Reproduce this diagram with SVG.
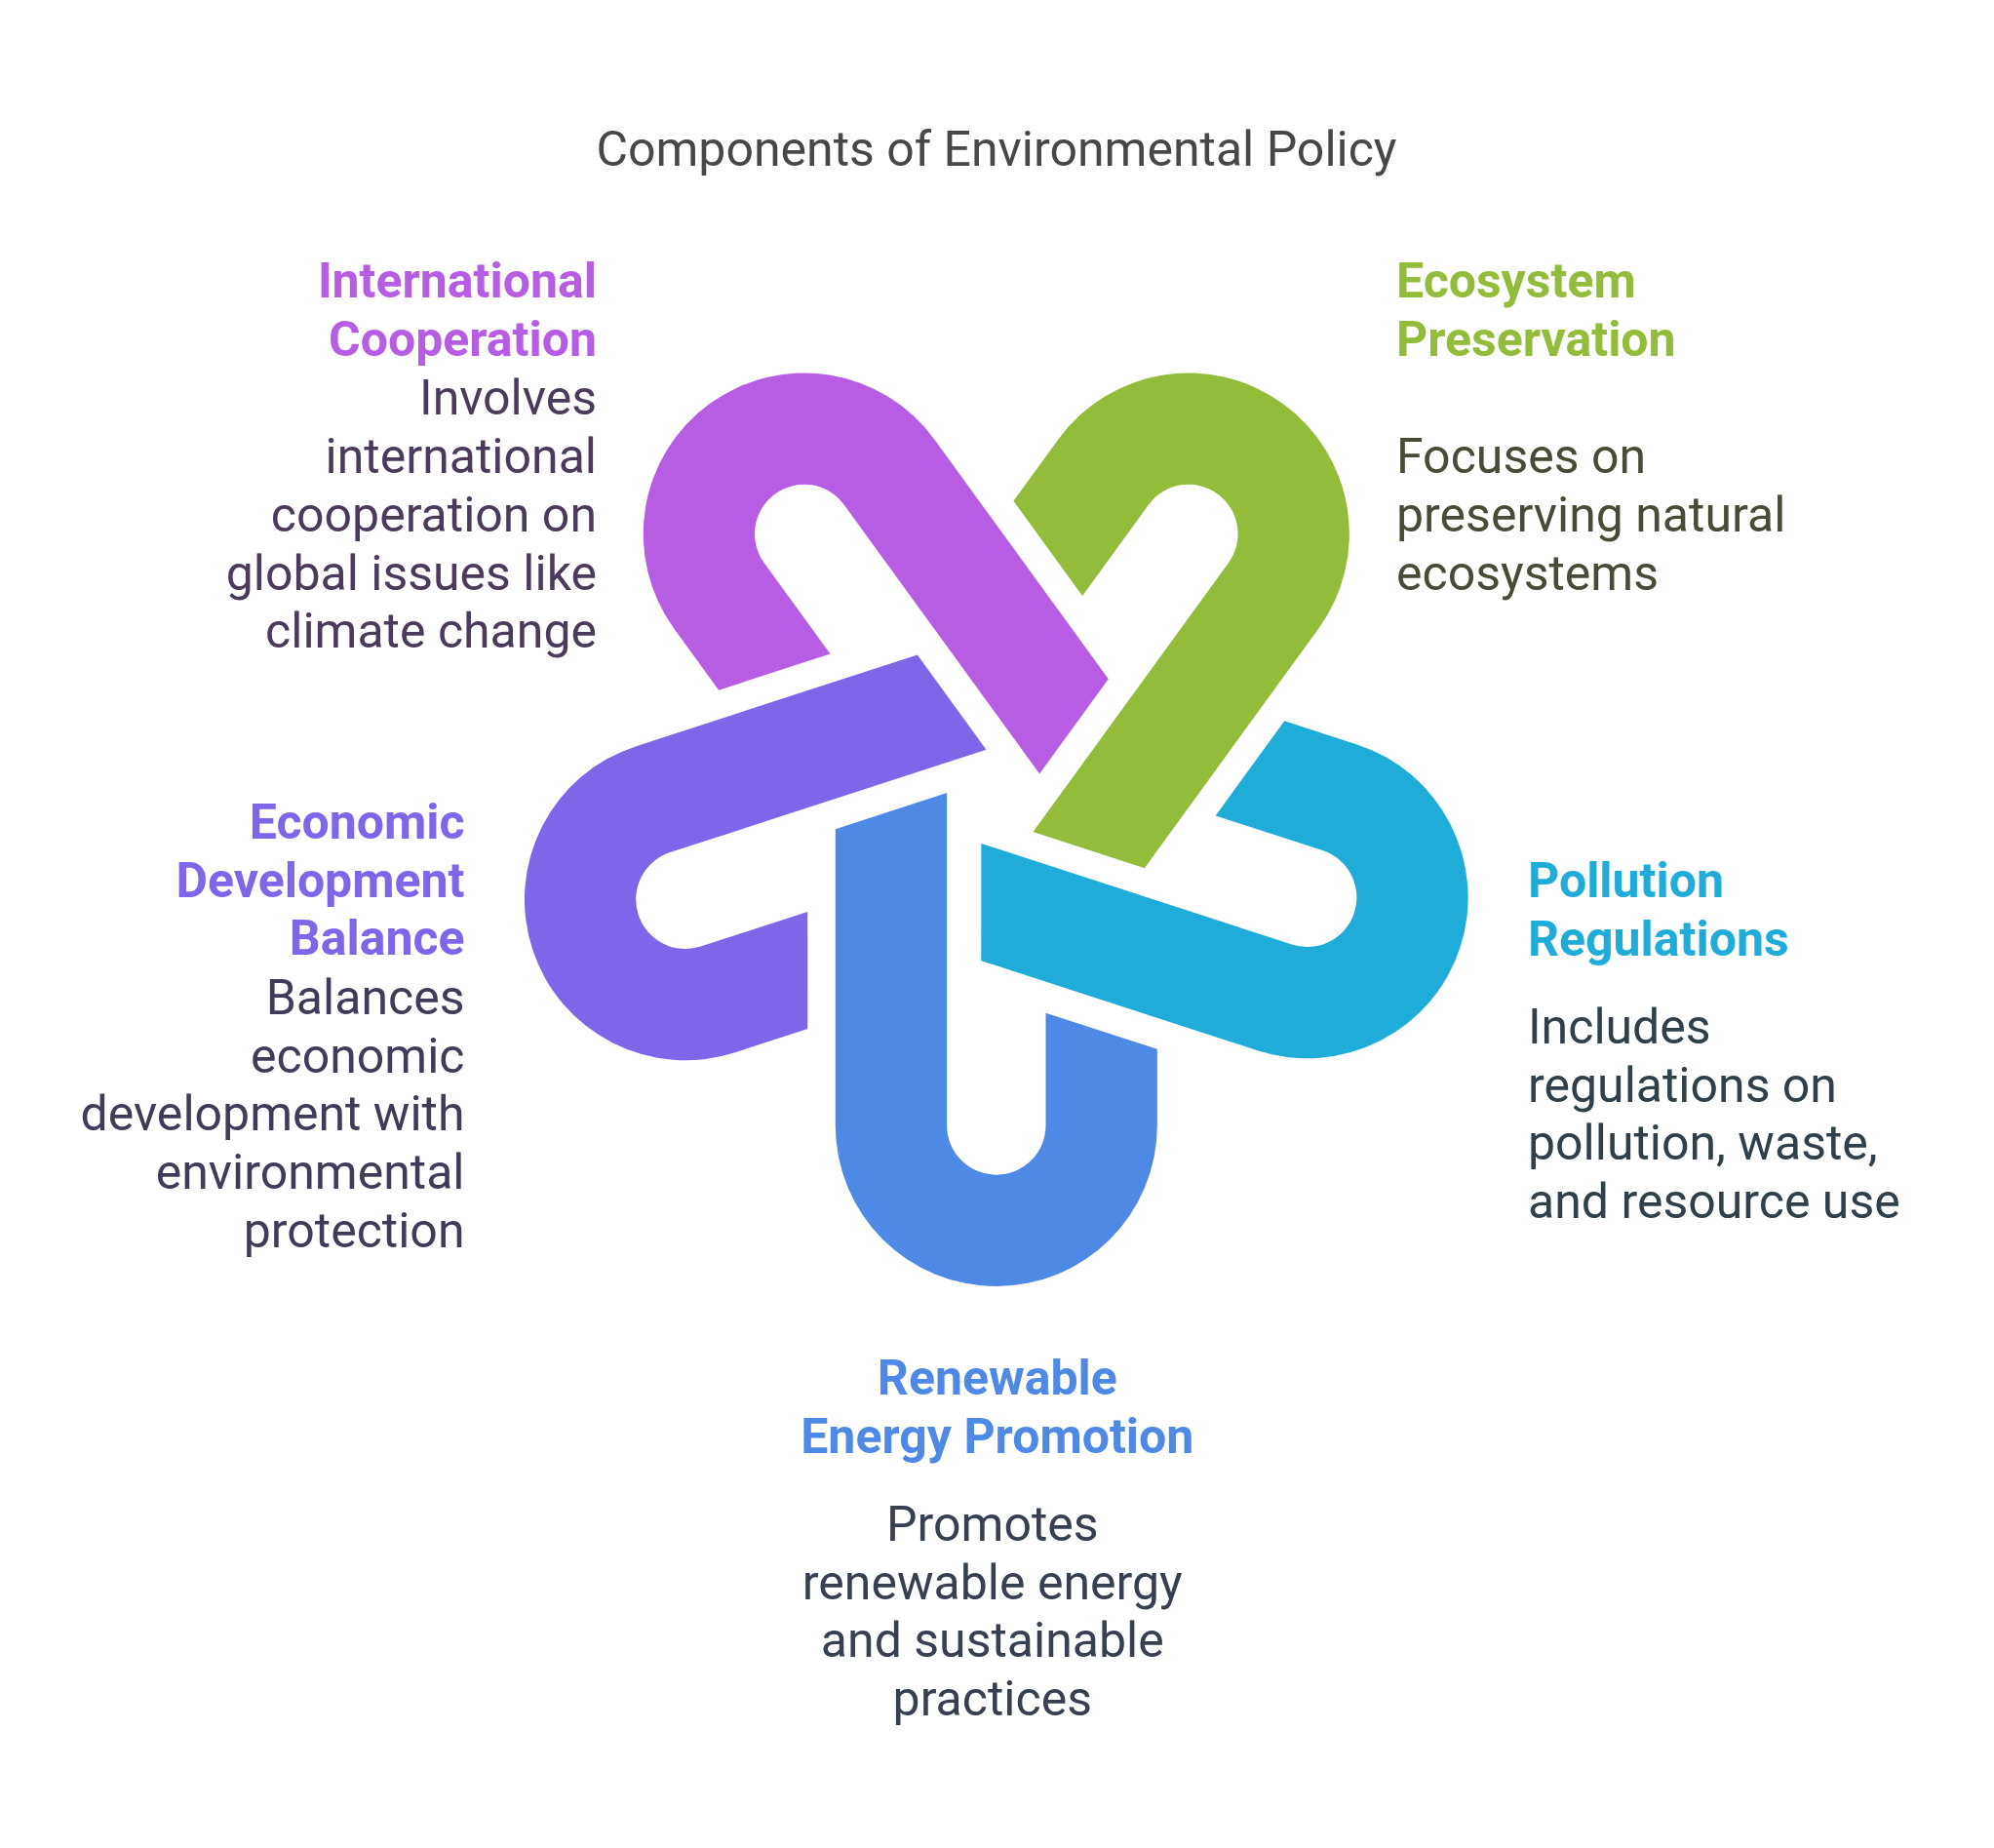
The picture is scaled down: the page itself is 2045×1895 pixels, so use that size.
<svg xmlns="http://www.w3.org/2000/svg" width="2045" height="1895" viewBox="0 0 2045 1895">
<style>
text { font-family: Roboto, "Liberation Sans", sans-serif; font-size: 50px; }
.h { font-weight: 700; }
.title { fill: #474747; }
.end { text-anchor: end; }
.mid { text-anchor: middle; }
</style>
<defs>
<path id="link" d="M -165,31.5 L -50.7,-5.6 L -50.7,335.3 A 50.7,50.7 0 0 0 50.7,335.3 L 50.7,220 L 165,257.1 L 165,335.3 A 165,165 0 0 1 -165,335.3 Z"/>
<path id="link-b" d="M -165,37.3 L -50.7,0.2 L -50.7,335.3 A 50.7,50.7 0 0 0 50.7,335.3 L 50.7,220 L 165,257.1 L 165,335.3 A 165,165 0 0 1 -165,335.3 Z"/>
</defs>
<rect width="2045" height="1895" fill="#ffffff"/>
<text class="title mid" x="1022" y="170">Components of Environmental Policy</text>

<g id="renewable-energy-promotion">
<use href="#link" transform="translate(1021.8,818.7)" fill="#4E89E5"/>
<text class="h mid" x="1022.8" y="1430" fill="#4E89E5">Renewable</text>
<text class="h mid" x="1022.8" y="1489.5" fill="#4E89E5">Energy Promotion</text>
<text class="mid" x="1017.8" y="1580" fill="#374051">Promotes</text>
<text class="mid" x="1017.8" y="1639.5" fill="#374051">renewable energy</text>
<text class="mid" x="1017.8" y="1699" fill="#374051">and sustainable</text>
<text class="mid" x="1017.8" y="1758.5" fill="#374051">practices</text>
</g>

<g id="pollution-regulations">
<use href="#link-b" transform="translate(1021.8,816.7) rotate(-72)" fill="#1FACD9"/>
<text class="h" x="1567" y="920" fill="#1FACD9">Pollution</text>
<text class="h" x="1567" y="979.5" fill="#1FACD9">Regulations</text>
<text x="1567" y="1070" fill="#2F404A">Includes</text>
<text x="1567" y="1129.5" fill="#2F404A">regulations on</text>
<text x="1567" y="1189" fill="#2F404A">pollution, waste,</text>
<text x="1567" y="1248.5" fill="#2F404A">and resource use</text>
</g>

<g id="ecosystem-preservation">
<use href="#link" transform="translate(1021.8,818.7) rotate(-144)" fill="#93BC3A"/>
<text class="h" x="1432" y="305" fill="#93BC3A">Ecosystem</text>
<text class="h" x="1432" y="365" fill="#93BC3A">Preservation</text>
<text x="1432" y="484.5" fill="#474C37">Focuses on</text>
<text x="1432" y="544.5" fill="#474C37">preserving natural</text>
<text x="1432" y="604.5" fill="#474C37">ecosystems</text>
</g>

<g id="international-cooperation">
<use href="#link" transform="translate(1021.8,818.7) rotate(144)" fill="#B75DE3"/>
<text class="h end" x="612" y="305" fill="#B75DE3">International</text>
<text class="h end" x="612" y="365" fill="#B75DE3">Cooperation</text>
<text class="end" x="612" y="424.5" fill="#4B3A5B">Involves</text>
<text class="end" x="612" y="484.5" fill="#4B3A5B">international</text>
<text class="end" x="612" y="544.5" fill="#4B3A5B">cooperation on</text>
<text class="end" x="612" y="604.5" fill="#4B3A5B">global issues like</text>
<text class="end" x="612" y="664" fill="#4B3A5B">climate change</text>
</g>

<g id="economic-development-balance">
<use href="#link" transform="translate(1021.8,818.7) rotate(72)" fill="#7F66E8"/>
<text class="h end" x="476.5" y="860" fill="#7F66E8">Economic</text>
<text class="h end" x="476.5" y="919.5" fill="#7F66E8">Development</text>
<text class="h end" x="476.5" y="979" fill="#7F66E8">Balance</text>
<text class="end" x="476.5" y="1039.5" fill="#403B59">Balances</text>
<text class="end" x="476.5" y="1099.5" fill="#403B59">economic</text>
<text class="end" x="476.5" y="1159" fill="#403B59">development with</text>
<text class="end" x="476.5" y="1219" fill="#403B59">environmental</text>
<text class="end" x="476.5" y="1278.5" fill="#403B59">protection</text>
</g>
</svg>
